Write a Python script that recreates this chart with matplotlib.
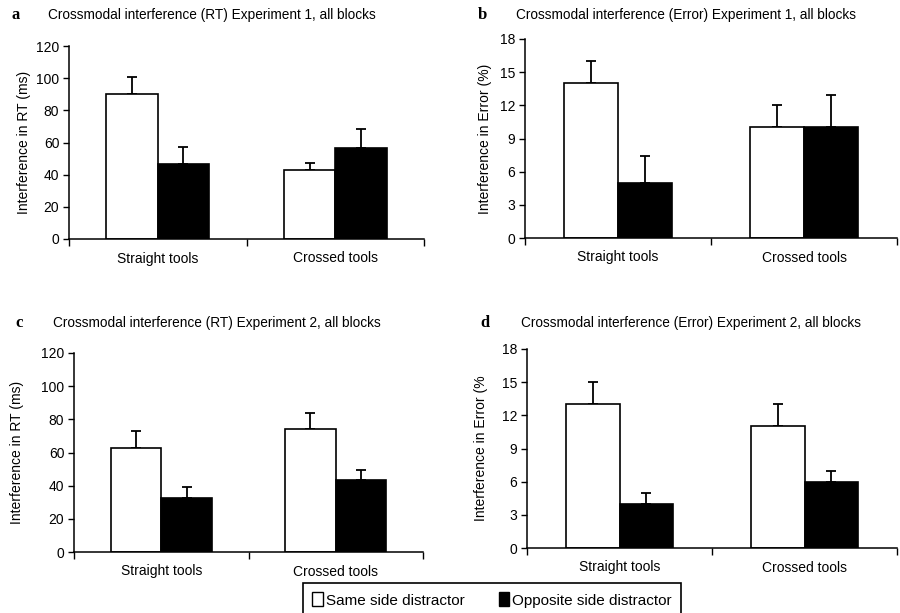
import matplotlib
matplotlib.use("Agg")
import matplotlib.pyplot as plt
from matplotlib.patches import Patch
import numpy as np

plt.rcParams['font.family'] = ['Liberation Sans', 'DejaVu Sans']

categories = ["Straight tools", "Crossed tools"]
series_names = ["Same side distractor", "Opposite side distractor"]

# Panel a: RT, Experiment 1
a_same = [90, 43]
a_same_err = [11, 4]
a_opp = [46.5, 56.5]
a_opp_err = [11, 12]

# Panel b: Error, Experiment 1
b_same = [14, 10]
b_same_err = [2, 2]
b_opp = [5, 10]
b_opp_err = [2.4, 2.9]

# Panel c: RT, Experiment 2
c_same = [63, 74]
c_same_err = [10, 10]
c_opp = [32.5, 43.5]
c_opp_err = [6.5, 6.2]

# Panel d: Error, Experiment 2
d_same = [13, 11]
d_same_err = [2, 2]
d_opp = [4, 6]
d_opp_err = [1, 1]

rt_ticks = [0, 20, 40, 60, 80, 100, 120]
err_ticks = [0, 3, 6, 9, 12, 15, 18]

W, H = 900, 613
fig = plt.figure(figsize=(9, 6.13), dpi=100)

def rect(l, r, t, b):
    return [l / W, 1 - b / H, (r - l) / W, (b - t) / H]

panels = [
    dict(pos=rect(69, 424, 46, 239), same=a_same, se=a_same_err, opp=a_opp, oe=a_opp_err,
         ticks=rt_ticks, ylabel="Interference in RT (ms)", letter="a", lx=12, tx=48, ty=15,
         title="Crossmodal interference (RT) Experiment 1, all blocks", ylx=31),
    dict(pos=rect(525, 897, 39, 238), same=b_same, se=b_same_err, opp=b_opp, oe=b_opp_err,
         ticks=err_ticks, ylabel="Interference in Error (%)", letter="b", lx=478, tx=516, ty=15,
         title="Crossmodal interference (Error) Experiment 1, all blocks", ylx=492),
    dict(pos=rect(74, 423, 353, 552), same=c_same, se=c_same_err, opp=c_opp, oe=c_opp_err,
         ticks=rt_ticks, ylabel="Interference in RT (ms)", letter="c", lx=15, tx=53, ty=323,
         title="Crossmodal interference (RT) Experiment 2, all blocks", ylx=24),
    dict(pos=rect(527, 897, 349, 548), same=d_same, se=d_same_err, opp=d_opp, oe=d_opp_err,
         ticks=err_ticks, ylabel="Interference in Error (%", letter="d", lx=480, tx=521, ty=323,
         title="Crossmodal interference (Error) Experiment 2, all blocks", ylx=488),
]

x = np.arange(len(categories))
bw = 0.29

for p in panels:
    ax = fig.add_axes(p["pos"])
    ax.bar(x - bw / 2, p["same"], bw, color="white", edgecolor="black", linewidth=1.2, zorder=2)
    ax.bar(x + bw / 2, p["opp"], bw, color="black", edgecolor="black", linewidth=1.2, zorder=2)
    ax.errorbar(x - bw / 2, p["same"], yerr=[np.zeros(2), p["se"]], fmt="none",
                ecolor="black", elinewidth=1.3, capsize=3.5, capthick=1.3, zorder=1)
    ax.errorbar(x + bw / 2, p["opp"], yerr=[np.zeros(2), p["oe"]], fmt="none",
                ecolor="black", elinewidth=1.3, capsize=3.5, capthick=1.3, zorder=1)
    ax.set_xlim(-0.5, 1.5)
    ax.set_ylim(p["ticks"][0], p["ticks"][-1])
    ax.set_yticks(p["ticks"])
    ax.set_xticks(x)
    ax.set_xticklabels(categories, fontsize=10)
    ax.set_xticks([-0.5, 0.5, 1.5], minor=True)
    ax.tick_params(axis="x", which="major", length=0, pad=9)
    ax.tick_params(axis="x", which="minor", length=5, width=1, direction="out")
    ax.tick_params(axis="y", length=4, width=1, direction="out", labelsize=10, pad=3)
    for s in ["top", "right"]:
        ax.spines[s].set_visible(False)
    for s in ["left", "bottom"]:
        ax.spines[s].set_linewidth(1.1)
    ax.set_ylabel(p["ylabel"], fontsize=10)
    bb = p["pos"]
    ax.yaxis.set_label_coords(p["ylx"] / W, bb[1] + bb[3] / 2, transform=fig.transFigure)
    fig.text(p["lx"] / W, 1 - p["ty"] / H, p["letter"], family="Liberation Serif",
             fontweight="bold", fontsize=12, va="center", ha="left")
    fig.text(p["tx"] / W, 1 - p["ty"] / H, p["title"], fontsize=9.8, va="center", ha="left")

handles = [Patch(facecolor="white", edgecolor="black", linewidth=1),
           Patch(facecolor="black", edgecolor="black", linewidth=1)]
leg = fig.legend(handles, series_names, loc="upper left",
                 bbox_to_anchor=(303 / W, 1 - 583 / H), ncol=2, fontsize=11,
                 frameon=True, fancybox=False, edgecolor="black", framealpha=1,
                 handlelength=0.7, handleheight=1.0, handletextpad=0.2,
                 columnspacing=2.2, borderpad=0.62, borderaxespad=0)
leg.get_frame().set_linewidth(1.2)

fig.savefig("out.png", dpi=100)
